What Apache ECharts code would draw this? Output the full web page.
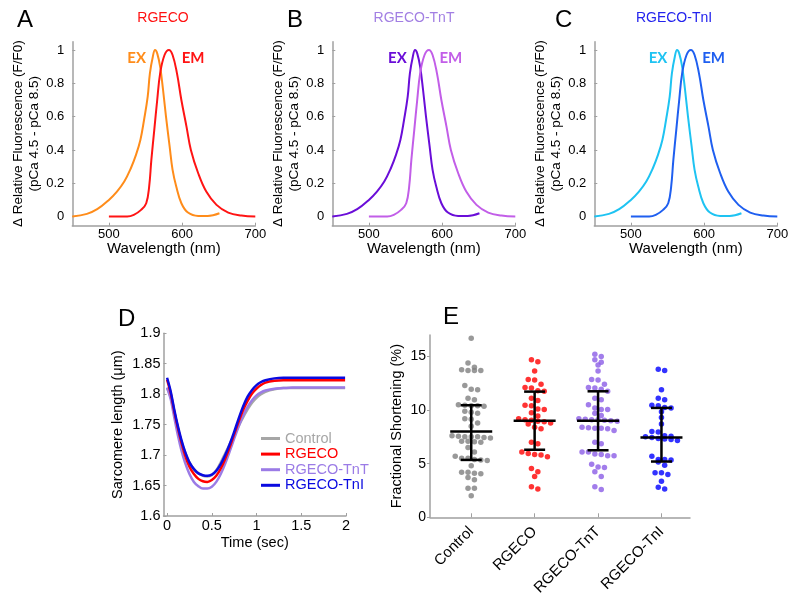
<!DOCTYPE html>
<html>
<head>
<meta charset="UTF-8">
<title>RGECO panels</title>
<script src="https://cdn.jsdelivr.net/npm/echarts@6/dist/echarts.min.js"></script>
</head>
<body style="margin:0;background:#fff">
<div id="main" style="width:800px;height:598px"></div>
<script>
// ---- spectra (A, B, C share the same shapes) ----
const exNm  = [450, 470, 484, 500, 511, 521, 530, 537, 543, 548, 553, 556, 560, 563, 566, 570, 574, 578, 583, 587, 592, 599, 608, 622, 635, 651];
const exVal = [0, 0.016, 0.044, 0.10, 0.15, 0.21, 0.29, 0.37, 0.46, 0.58, 0.72, 0.86, 0.96, 1.0, 0.98, 0.90, 0.76, 0.60, 0.42, 0.28, 0.18, 0.08, 0.024, 0.004, 0.004, 0.02];
const emNm  = [500, 525, 534, 544, 551, 555, 558, 562, 566, 570, 576, 582, 587, 593, 599, 606, 612, 622, 633, 647, 663, 681, 700];
const emVal = [0, 0, 0.01, 0.04, 0.08, 0.18, 0.34, 0.52, 0.70, 0.86, 0.97, 1.0, 0.97, 0.86, 0.70, 0.54, 0.40, 0.26, 0.15, 0.07, 0.024, 0.006, 0];
const specTicksX = [500, 600, 700];
const specTicksY = [0, 0.2, 0.4, 0.6, 0.8, 1];

// ---- D: sarcomere length traces ----
const dNames = ['Control', 'RGECO', 'RGECO-TnT', 'RGECO-TnI'];
const timeSec = [0, 0.04, 0.08, 0.12, 0.16, 0.2, 0.25, 0.3, 0.35, 0.4, 0.45, 0.5, 0.55, 0.6, 0.65, 0.7, 0.75, 0.8, 0.85, 0.9, 0.95, 1.0, 1.05, 1.1, 1.2, 1.3, 1.4, 1.6, 1.8, 1.99];
const slControl = [1.81, 1.795, 1.770, 1.745, 1.723, 1.705, 1.688, 1.677, 1.670, 1.666, 1.665, 1.667, 1.675, 1.688, 1.703, 1.718, 1.733, 1.748, 1.762, 1.775, 1.786, 1.794, 1.800, 1.804, 1.808, 1.810, 1.810, 1.810, 1.810, 1.810];
const slRgeco   = [1.824, 1.802, 1.772, 1.745, 1.721, 1.700, 1.681, 1.669, 1.661, 1.657, 1.656, 1.659, 1.666, 1.678, 1.694, 1.713, 1.734, 1.755, 1.774, 1.789, 1.801, 1.809, 1.815, 1.819, 1.822, 1.823, 1.823, 1.823, 1.823, 1.823];
const slTnT     = [1.811, 1.792, 1.762, 1.733, 1.708, 1.688, 1.669, 1.656, 1.649, 1.645, 1.645, 1.648, 1.656, 1.669, 1.686, 1.706, 1.727, 1.747, 1.765, 1.779, 1.790, 1.798, 1.803, 1.806, 1.809, 1.810, 1.811, 1.811, 1.811, 1.811];
const slTnI     = [1.827, 1.805, 1.775, 1.748, 1.725, 1.706, 1.688, 1.677, 1.670, 1.667, 1.666, 1.668, 1.674, 1.685, 1.700, 1.718, 1.738, 1.760, 1.780, 1.796, 1.807, 1.815, 1.820, 1.823, 1.826, 1.827, 1.827, 1.827, 1.827, 1.827];
const timeTicks = [0, 0.5, 1, 1.5, 2];

// ---- E: fractional shortening (%) ----
const groups = ['Control', 'RGECO', 'RGECO-TnT', 'RGECO-TnI'];
const fsControl = [16.7, 14.4, 14.0, 13.75, 13.7, 13.7, 13.7, 12.3, 11.95, 11.9, 11.1, 10.95, 10.5, 10.45, 10.4, 10.4, 10.35, 9.9, 9.8, 9.7, 9.2, 9.15, 8.8, 8.5, 7.6, 7.55, 7.5, 7.5, 7.5, 7.45, 7.4, 7.1, 7.1, 7.05, 7.0, 6.5, 6.1, 5.7, 5.5, 5.5, 5.4, 5.35, 5.3, 4.8, 4.2, 4.2, 4.1, 4.05, 3.7, 3.5, 2.7, 2.7, 2.0];
const fsRgeco = [14.7, 14.5, 13.65, 12.85, 12.8, 12.4, 12.1, 12.05, 11.8, 11.75, 11.1, 10.9, 10.45, 10.4, 10.1, 10.05, 9.75, 9.45, 9.2, 9.1, 9.05, 8.95, 8.9, 8.8, 8.7, 8.4, 8.25, 7.0, 6.85, 6.1, 5.95, 5.85, 5.8, 5.65, 4.55, 4.25, 3.8, 2.85, 2.65];
const fsTnT = [15.2, 15.0, 14.7, 14.45, 14.2, 13.65, 12.85, 12.8, 12.4, 12.1, 12.05, 11.95, 11.75, 11.1, 10.95, 10.5, 10.2, 10.05, 10.05, 9.7, 9.5, 9.2, 9.15, 9.1, 9.1, 9.05, 9.0, 8.95, 8.4, 8.35, 8.3, 8.3, 8.25, 8.1, 7.0, 6.85, 6.1, 6.1, 5.9, 5.85, 5.75, 5.75, 4.95, 4.7, 4.65, 4.25, 3.8, 2.85, 2.6];
const fsTnI = [13.8, 13.7, 11.9, 11.1, 10.95, 10.45, 10.4, 10.25, 10.2, 9.85, 9.3, 8.7, 8.0, 7.95, 7.6, 7.55, 7.5, 7.45, 7.35, 7.3, 7.25, 7.15, 5.7, 5.4, 5.4, 5.35, 5.15, 4.85, 4.15, 4.15, 4.0, 3.35, 2.8, 2.65];
const fsMean = [8.0, 9.0, 9.0, 7.45];
const fsLow  = [5.35, 6.3, 6.25, 5.2];
const fsHigh = [10.45, 11.72, 11.75, 10.2];
const fsTicks = [0, 5, 10, 15];

const FONT = 'Liberation Sans, Arial, sans-serif';
const AXIS_GREY = '#a0a0a0';

let chart = echarts.init(document.getElementById('main'));

function pairs(xs, ys) {
    return xs.map((x, i) => [x, ys[i]]);
}

// row-style dot plot: values closer than rowH share a row and are spread sideways
function dotRows(values, center, pxX, rowH) {
    let sorted = values.slice().sort((a, b) => b - a);
    let rows = [];
    sorted.forEach(v => {
        let row = rows[rows.length - 1];
        if (row && row[0] - v < rowH) row.push(v);
        else rows.push([v]);
    });
    let out = [];
    rows.forEach(row => {
        row.forEach((v, j) => {
            let off = (j - (row.length - 1) / 2) * 6.4;
            out.push([center + off / pxX, v]);
        });
    });
    return out;
}

function baseAxis(o) {
    return Object.assign({
        type: 'value',
        splitLine: {show: false},
        axisLine: {show: true, onZero: false, lineStyle: {color: AXIS_GREY, width: 1.5}},
        axisTick: {show: true, inside: true, length: 3, lineStyle: {color: AXIS_GREY}},
        axisLabel: {color: '#000', fontSize: 13, fontFamily: FONT},
        nameTextStyle: {color: '#000', fontFamily: FONT}
    }, o);
}

let specLefts = [72.3, 332.3, 594.3];
let grids = specLefts.map(l => ({left: l, top: 41.7, width: 183, height: 184}));
grids.push({left: 163.5, top: 333.3, width: 182.5, height: 182.7});
grids.push({left: 430, top: 335, width: 260, height: 182.3});

let xAxes = [], yAxes = [];
for (let i = 0; i < 3; i++) {
    xAxes.push(baseAxis({
        gridIndex: i, min: 450, max: 700,
        axisLabel: {color: '#000', fontSize: 13, fontFamily: FONT, margin: 2, customValues: specTicksX},
        axisTick: {show: true, inside: true, length: 3, lineStyle: {color: AXIS_GREY}, customValues: specTicksX},
        name: 'Wavelength (nm)', nameLocation: 'middle', nameGap: 15,
        nameTextStyle: {color: '#000', fontSize: 15, fontFamily: FONT}
    }));
    yAxes.push(baseAxis({
        gridIndex: i, min: -0.055, max: 1.05,
        axisLabel: {color: '#000', fontSize: 13, fontFamily: FONT, margin: 8, customValues: specTicksY},
        axisTick: {show: true, inside: true, length: 3, lineStyle: {color: AXIS_GREY}, customValues: specTicksY},
        name: '\u0394 Relative Fluorescence (F/F0)\n(pCa 4.5 - pCa 8.5)',
        nameLocation: 'middle', nameGap: 30,
        nameTextStyle: {color: '#000', fontSize: 13.5, lineHeight: 16, fontFamily: FONT}
    }));
}
xAxes.push(baseAxis({
    gridIndex: 3, min: -0.04, max: 2,
    axisLabel: {color: '#000', fontSize: 14.5, fontFamily: FONT, margin: 2, customValues: timeTicks},
    axisTick: {show: true, inside: true, length: 3, lineStyle: {color: AXIS_GREY}, customValues: timeTicks},
    name: 'Time (sec)', nameLocation: 'middle', nameGap: 19,
    nameTextStyle: {color: '#000', fontSize: 14.5, fontFamily: FONT}
}));
yAxes.push(baseAxis({
    gridIndex: 3, min: 1.6, max: 1.9, interval: 0.05,
    axisLabel: {color: '#000', fontSize: 14.5, fontFamily: FONT, margin: 3},
    name: 'Sarcomere length (\u03bcm)', nameLocation: 'middle', nameGap: 38,
    nameTextStyle: {color: '#000', fontSize: 14.5, fontFamily: FONT}
}));
xAxes.push(baseAxis({
    gridIndex: 4, min: 0.35, max: 4.45,
    axisLabel: {
        color: '#000', fontSize: 15, fontFamily: FONT, margin: 12, rotate: 45,
        customValues: [1, 2, 3, 4],
        formatter: v => groups[Math.round(v) - 1]
    },
    axisTick: {show: true, inside: true, length: 4, lineStyle: {color: AXIS_GREY}, customValues: [1, 2, 3, 4]}
}));
yAxes.push(baseAxis({
    gridIndex: 4, min: 0, max: 17,
    axisLabel: {color: '#000', fontSize: 14, fontFamily: FONT, margin: 4, customValues: fsTicks},
    axisTick: {show: true, inside: false, length: 3, lineStyle: {color: AXIS_GREY}, customValues: fsTicks},
    name: 'Fractional Shortening (%)', nameLocation: 'middle', nameGap: 26,
    nameTextStyle: {color: '#000', fontSize: 14.5, fontFamily: FONT}
}));

let series = [];

// spectra
let specColors = [
    ['#ff8c1a', '#ff1414'],
    ['#6a0dd8', '#c25ee8'],
    ['#1ec3f2', '#1f5ff0']
];
let exLabelNm = [538, 539, 537];
let emLabelNm = [615, 612, 613];

function labelPoint(text, nm, color) {
    return {
        symbol: 'circle', symbolSize: 1,
        itemStyle: {color: 'rgba(0,0,0,0)'},
        label: {show: true, position: 'inside', formatter: text, color: color,
            fontSize: 15, fontWeight: 'bold', fontFamily: 'Lato, Open Sans, sans-serif'},
        data: [{coord: [nm, 0.95]}]
    };
}

specColors.forEach((c, i) => {
    series.push({
        name: 'ex' + i, type: 'line', xAxisIndex: i, yAxisIndex: i,
        data: pairs(exNm, exVal), showSymbol: false, smooth: 0.4,
        lineStyle: {color: c[0], width: 2}, itemStyle: {color: c[0]},
        markPoint: labelPoint('EX', exLabelNm[i], c[0])
    });
    series.push({
        name: 'em' + i, type: 'line', xAxisIndex: i, yAxisIndex: i,
        data: pairs(emNm, emVal), showSymbol: false, smooth: 0.4,
        lineStyle: {color: c[1], width: 2}, itemStyle: {color: c[1]},
        markPoint: labelPoint('EM', emLabelNm[i], c[1])
    });
});

// D traces
let dColors = ['#a6a6a6', '#ff0000', '#9b7be6', '#0a0ae0'];
let dData = [slControl, slTnT, slRgeco, slTnI];
let dOrder = [0, 2, 1, 3];
dOrder.forEach((k, j) => {
    series.push({
        name: dNames[k], type: 'line', xAxisIndex: 3, yAxisIndex: 3,
        data: pairs(timeSec, dData[j]), showSymbol: false, smooth: 0.3,
        lineStyle: {color: dColors[k], width: 2.5}, itemStyle: {color: dColors[k]}
    });
});

// E dots
let dotColors = ['#7f7f7f', '#ff0000', '#8b5ce6', '#0000ff'];
let fsAll = [fsControl, fsRgeco, fsTnT, fsTnI];
let pxX = 260 / (4.45 - 0.35);
fsAll.forEach((vals, i) => {
    series.push({
        name: groups[i] + ' dots', type: 'scatter', xAxisIndex: 4, yAxisIndex: 4,
        data: dotRows(vals, i + 1, pxX, 0.5), symbolSize: 5.5,
        itemStyle: {color: dotColors[i]}
    });
});

series.push({
    name: 'errbars', type: 'custom', xAxisIndex: 4, yAxisIndex: 4, z: 10,
    data: groups.map((g, i) => [i + 1, fsMean[i], fsLow[i], fsHigh[i]]),
    renderItem: function (params, api) {
        let x = api.value(0);
        let m = api.coord([x, api.value(1)]);
        let lo = api.coord([x, api.value(2)]);
        let hi = api.coord([x, api.value(3)]);
        let st = {stroke: '#000', lineWidth: 2.5};
        return {
            type: 'group', children: [
                {type: 'line', shape: {x1: lo[0], y1: lo[1], x2: hi[0], y2: hi[1]}, style: st},
                {type: 'line', shape: {x1: lo[0] - 10.5, y1: lo[1], x2: lo[0] + 10.5, y2: lo[1]}, style: st},
                {type: 'line', shape: {x1: hi[0] - 10.5, y1: hi[1], x2: hi[0] + 10.5, y2: hi[1]}, style: st},
                {type: 'line', shape: {x1: m[0] - 21, y1: m[1], x2: m[0] + 21, y2: m[1]}, style: st}
            ]
        };
    }
});

function txt(text, x, y, size, color, align) {
    return {
        type: 'text', x: x, y: y, silent: true,
        style: {text: text, fill: color, font: size + 'px ' + FONT, align: align || 'left', verticalAlign: 'middle'}
    };
}

let option = {
    animation: false,
    backgroundColor: '#fff',
    grid: grids,
    xAxis: xAxes,
    yAxis: yAxes,
    legend: {
        left: 256, top: 426, orient: 'vertical', itemGap: 0.6,
        itemWidth: 19, itemHeight: 3, icon: 'rect',
        textStyle: {fontSize: 14.5, lineHeight: 15, fontFamily: FONT},
        data: dNames.map((n, i) => ({name: n, textStyle: {color: dColors[i]}}))
    },
    graphic: [
        txt('A', 17, 20, 24, '#000'),
        txt('B', 287, 20, 24, '#000'),
        txt('C', 555, 20, 24, '#000'),
        txt('D', 118, 319, 24, '#000'),
        txt('E', 443, 317, 24, '#000'),
        txt('RGECO', 163, 18, 14, '#ff1010', 'center'),
        txt('RGECO-TnT', 414, 18, 14, '#a27fe3', 'center'),
        txt('RGECO-TnI', 674, 18, 14, '#2323ee', 'center')
    ],
    series
};

chart.setOption(option);
</script>
</body>
</html>
